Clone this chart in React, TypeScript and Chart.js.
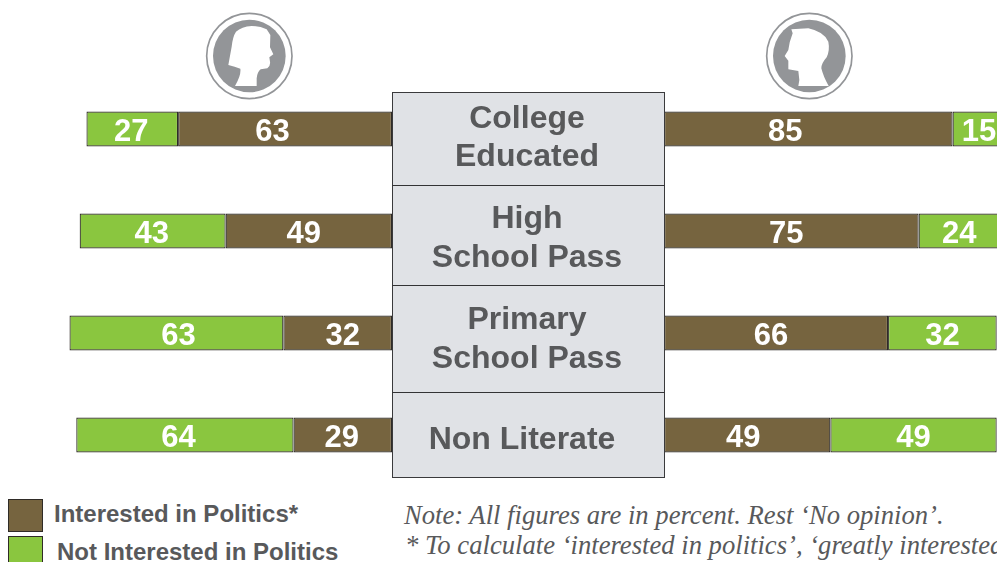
import React, { useEffect, useRef } from "react";
import { Chart, registerables } from "chart.js";

Chart.register(...registerables);

const categories = ["College Educated", "High School Pass", "Primary School Pass", "Non Literate"];
const seriesNames = ["Interested in Politics*", "Not Interested in Politics"];
const womenInterested = [63, 49, 32, 29];
const womenNotInterested = [27, 43, 63, 64];
const menInterested = [85, 75, 66, 49];
const menNotInterested = [15, 24, 32, 49];
const noteLines = [
  "Note: All figures are in percent. Rest ‘No opinion’.",
  "* To calculate ‘interested in politics’, ‘greatly interested’",
];

const BROWN = "#76643f";
const GREEN = "#8ac63f";
const EDGE = "#2f2b27";
const TEXT = "#58595b";
const PX_PER_UNIT = 3.395;
const SANS = "'Liberation Sans', Arial, sans-serif";

const boxLines = [
  { text: "College", y: 117, x: 527 },
  { text: "Educated", y: 155, x: 527 },
  { text: "High", y: 217, x: 527 },
  { text: "School Pass", y: 256, x: 527 },
  { text: "Primary", y: 318, x: 527 },
  { text: "School Pass", y: 357, x: 527 },
  { text: "Non Literate", y: 438, x: 522 },
];
const boxDividers = [185, 285, 392];

const valueLabels = {
  id: "valueLabels",
  afterDatasetsDraw(chart: any, _args: any, opts: any) {
    const { ctx } = chart;
    ctx.save();
    ctx.font = `bold 31px ${SANS}`;
    ctx.fillStyle = "#ffffff";
    ctx.textAlign = "center";
    ctx.textBaseline = "middle";
    chart.data.datasets.forEach((ds: any, di: number) => {
      chart.getDatasetMeta(di).data.forEach((el: any, i: number) => {
        const c = el.getCenterPoint();
        ctx.fillText(String(ds.data[i]), c.x + opts.nudge[di][i], c.y + 3);
      });
    });
    ctx.restore();
  },
};

function makeChart(
  canvas: HTMLCanvasElement,
  interested: number[],
  notInterested: number[],
  reverse: boolean,
  nudge: number[][]
) {
  return new Chart(canvas, {
    type: "bar",
    data: {
      labels: categories,
      datasets: [
        { label: seriesNames[0], data: interested, backgroundColor: BROWN },
        { label: seriesNames[1], data: notInterested, backgroundColor: GREEN },
      ].map((d) => ({
        ...d,
        borderColor: EDGE,
        borderWidth: 1.2,
        borderSkipped: false,
        categoryPercentage: 1,
        barPercentage: 35 / 102,
      })),
    },
    options: {
      indexAxis: "y",
      animation: false,
      responsive: false,
      layout: { padding: 0 },
      scales: {
        x: {
          display: false,
          stacked: true,
          reverse,
          min: 0,
          max: canvas.width / PX_PER_UNIT,
        },
        y: { display: false, stacked: true },
      },
      plugins: {
        legend: { display: false },
        tooltip: { enabled: false },
        valueLabels: { nudge },
      } as any,
    },
    plugins: [valueLabels],
  } as any);
}

const abs = (s: React.CSSProperties): React.CSSProperties => ({ position: "absolute", ...s });

function Head({ x, path, cx }: { x: number; path: string; cx: number }) {
  return (
    <svg style={abs({ left: x, top: 0 })} width={340} height={110} viewBox="0 0 1020 330">
      <circle cx={cx} cy={168} r={128} fill="none" stroke="#939598" strokeWidth={5} />
      <circle cx={cx} cy={168} r={109} fill="#939598" />
      <path d={path} fill="#ffffff" />
    </svg>
  );
}

const womanPath =
  "M525 258 L590 258 L590 235 Q592 215 602 208 L622 205 Q632 198 630 185 L628 172 L640 163 L630 142 L631 105 L620 88 Q600 78 575 78 Q545 80 528 95 Q518 110 515 140 L505 195 Q525 200 541 206 Q544 225 525 258 Z";
const manPath =
  "M415 258 L506 258 Q490 230 484 205 Q484 190 500 172 Q510 150 505 125 Q492 95 445 85 L394 88 L398 100 Q388 125 385 150 L374 168 L385 182 L385 208 L415 213 L418 240 Z";

export default function App() {
  const leftRef = useRef<HTMLCanvasElement>(null);
  const rightRef = useRef<HTMLCanvasElement>(null);

  useEffect(() => {
    const left = makeChart(leftRef.current!, womenInterested, womenNotInterested, true, [
      [-12.5, -5, 5, -1],
      [-1, -1, 2, -6.5],
    ]);
    const right = makeChart(rightRef.current!, menInterested, menNotInterested, false, [
      [-23, -5, -5, -4],
      [1, 0, 0, 0],
    ]);
    return () => {
      left.destroy();
      right.destroy();
    };
  }, []);

  return (
    <div style={{ position: "fixed", left: 0, top: 0, width: 997, height: 562, overflow: "hidden", background: "#fff" }}>
      <Head x={60} path={womanPath} cx={568} />
      <Head x={660} path={manPath} cx={448} />
      <canvas ref={leftRef} width={392} height={408} style={abs({ left: 0, top: 78 })} />
      <canvas ref={rightRef} width={333} height={408} style={abs({ left: 664, top: 78 })} />

      <div
        style={abs({
          left: 392,
          top: 91.5,
          width: 273,
          height: 386.5,
          boxSizing: "border-box",
          background: "#e0e2e6",
          border: "1.5px solid #3a3a3c",
        })}
      />
      {boxDividers.map((y) => (
        <div key={y} style={abs({ left: 392, top: y - 0.5, width: 273, height: 1.5, background: "#333335" })} />
      ))}
      {boxLines.map((l, i) => (
        <div
          key={i}
          style={abs({
            left: l.x - 136,
            top: l.y - 20,
            width: 272,
            height: 40,
            textAlign: "center",
            font: `bold 32px/40px ${SANS}`,
            color: TEXT,
            whiteSpace: "nowrap",
          })}
        >
          {l.text}
        </div>
      ))}

      <div style={abs({ left: 8, top: 499, width: 35, height: 33, boxSizing: "border-box", background: BROWN, border: `1.5px solid ${EDGE}` })} />
      <div style={abs({ left: 8, top: 536, width: 35, height: 33, boxSizing: "border-box", background: GREEN, border: `1.5px solid ${EDGE}` })} />
      <div style={abs({ left: 54, top: 499, font: `bold 24px/30px ${SANS}`, color: TEXT, whiteSpace: "nowrap" })}>{seriesNames[0]}</div>
      <div style={abs({ left: 57, top: 537, font: `bold 24px/30px ${SANS}`, color: TEXT, whiteSpace: "nowrap" })}>{seriesNames[1]}</div>

      <div style={abs({ left: 404, top: 500, font: `italic 26.65px/30px 'Liberation Serif', serif`, color: TEXT, whiteSpace: "nowrap" })}>{noteLines[0]}</div>
      <div style={abs({ left: 405, top: 530, font: `italic 26.65px/30px 'Liberation Serif', serif`, color: TEXT, whiteSpace: "nowrap" })}>{noteLines[1]}</div>
    </div>
  );
}
